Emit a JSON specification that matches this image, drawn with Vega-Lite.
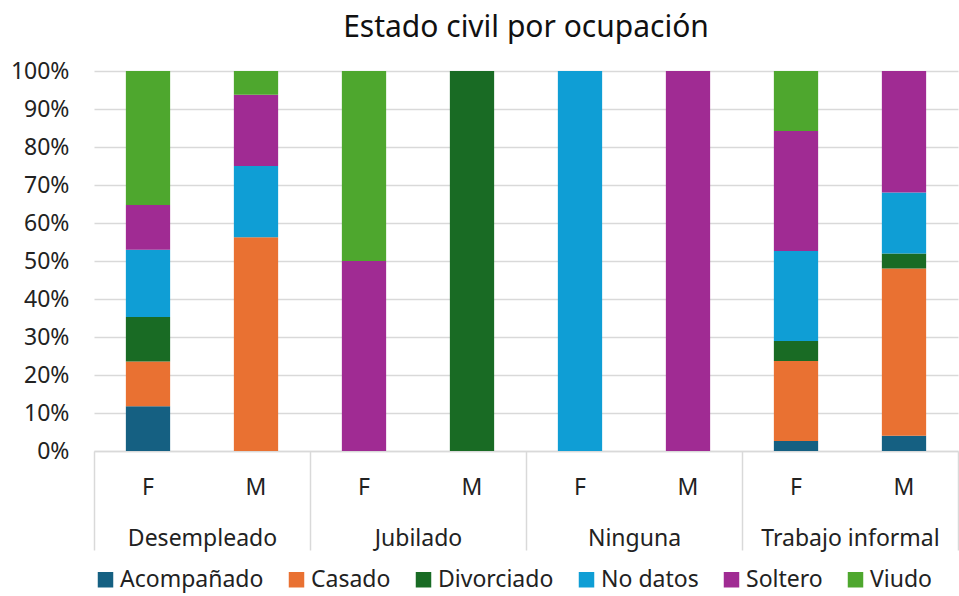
{
  "$schema": "https://vega.github.io/schema/vega-lite/v6.json",
  "autosize": {"type": "fit", "contains": "padding"},
  "width": 959,
  "height": 596,
  "padding": {"left": 10, "top": 13, "right": 0, "bottom": 4},
  "title": {"text": "Estado civil por ocupación", "fontSize": 30, "fontWeight": "normal", "color": "#111111", "anchor": "middle", "offset": 17},
  "data": {
    "values": [
      {"ocupacion": "Desempleado", "sexo": "F", "barra": "Desempleado F", "estado": "Acompañado", "n": 2},
      {"ocupacion": "Desempleado", "sexo": "F", "barra": "Desempleado F", "estado": "Casado", "n": 2},
      {"ocupacion": "Desempleado", "sexo": "F", "barra": "Desempleado F", "estado": "Divorciado", "n": 2},
      {"ocupacion": "Desempleado", "sexo": "F", "barra": "Desempleado F", "estado": "No datos", "n": 3},
      {"ocupacion": "Desempleado", "sexo": "F", "barra": "Desempleado F", "estado": "Soltero", "n": 2},
      {"ocupacion": "Desempleado", "sexo": "F", "barra": "Desempleado F", "estado": "Viudo", "n": 6},
      {"ocupacion": "Desempleado", "sexo": "M", "barra": "Desempleado M", "estado": "Casado", "n": 9},
      {"ocupacion": "Desempleado", "sexo": "M", "barra": "Desempleado M", "estado": "No datos", "n": 3},
      {"ocupacion": "Desempleado", "sexo": "M", "barra": "Desempleado M", "estado": "Soltero", "n": 3},
      {"ocupacion": "Desempleado", "sexo": "M", "barra": "Desempleado M", "estado": "Viudo", "n": 1},
      {"ocupacion": "Jubilado", "sexo": "F", "barra": "Jubilado F", "estado": "Soltero", "n": 1},
      {"ocupacion": "Jubilado", "sexo": "F", "barra": "Jubilado F", "estado": "Viudo", "n": 1},
      {"ocupacion": "Jubilado", "sexo": "M", "barra": "Jubilado M", "estado": "Divorciado", "n": 1},
      {"ocupacion": "Ninguna", "sexo": "F", "barra": "Ninguna F", "estado": "No datos", "n": 1},
      {"ocupacion": "Ninguna", "sexo": "M", "barra": "Ninguna M", "estado": "Soltero", "n": 1},
      {"ocupacion": "Trabajo informal", "sexo": "F", "barra": "Trabajo informal F", "estado": "Acompañado", "n": 1},
      {"ocupacion": "Trabajo informal", "sexo": "F", "barra": "Trabajo informal F", "estado": "Casado", "n": 8},
      {"ocupacion": "Trabajo informal", "sexo": "F", "barra": "Trabajo informal F", "estado": "Divorciado", "n": 2},
      {"ocupacion": "Trabajo informal", "sexo": "F", "barra": "Trabajo informal F", "estado": "No datos", "n": 9},
      {"ocupacion": "Trabajo informal", "sexo": "F", "barra": "Trabajo informal F", "estado": "Soltero", "n": 12},
      {"ocupacion": "Trabajo informal", "sexo": "F", "barra": "Trabajo informal F", "estado": "Viudo", "n": 6},
      {"ocupacion": "Trabajo informal", "sexo": "M", "barra": "Trabajo informal M", "estado": "Acompañado", "n": 1},
      {"ocupacion": "Trabajo informal", "sexo": "M", "barra": "Trabajo informal M", "estado": "Casado", "n": 11},
      {"ocupacion": "Trabajo informal", "sexo": "M", "barra": "Trabajo informal M", "estado": "Divorciado", "n": 1},
      {"ocupacion": "Trabajo informal", "sexo": "M", "barra": "Trabajo informal M", "estado": "No datos", "n": 4},
      {"ocupacion": "Trabajo informal", "sexo": "M", "barra": "Trabajo informal M", "estado": "Soltero", "n": 8}
    ]
  },
  "layer": [
    {
      "mark": {"type": "bar"},
      "encoding": {
        "x": {
          "field": "barra", "type": "nominal",
          "scale": {"paddingInner": 0.59, "paddingOuter": 0.295},
          "axis": {"title": null, "labelExpr": "slice(datum.label, -1)", "labelAngle": 0, "ticks": false, "domain": true, "domainColor": "#d9d9d9", "domainWidth": 1.5, "labelPadding": 25, "labelFontSize": 23, "labelColor": "#222222"}
        },
        "y": {
          "aggregate": "sum", "field": "n", "type": "quantitative", "stack": "normalize",
          "scale": {"domain": [0, 1]},
          "axis": {"title": null, "format": ".0%", "values": [0, 0.1, 0.2, 0.3, 0.4, 0.5, 0.6, 0.7, 0.8, 0.9, 1], "grid": true, "gridColor": "#d9d9d9", "gridWidth": 1.5, "domain": false, "ticks": false, "labelPadding": 25, "labelFontSize": 23, "labelColor": "#222222"}
        },
        "color": {
          "field": "estado", "type": "nominal",
          "scale": {"domain": ["Acompañado", "Casado", "Divorciado", "No datos", "Soltero", "Viudo"], "range": ["#156082", "#E97132", "#196B24", "#0F9ED5", "#A02B93", "#4EA72E"]},
          "legend": {"title": null, "orient": "bottom", "direction": "horizontal", "symbolType": "square", "symbolSize": 240, "symbolStrokeWidth": 0, "labelFontSize": 23, "labelColor": "#222222", "labelOffset": 3, "columnPadding": 21, "offset": 17}
        },
        "order": {"field": "estado", "sort": "ascending"}
      }
    },
    {
      "mark": {"type": "rule", "opacity": 0},
      "encoding": {
        "x": {
          "field": "ocupacion", "type": "nominal",
          "scale": {"paddingInner": 0, "paddingOuter": 0},
          "axis": {"orient": "bottom", "title": null, "labelAngle": 0, "domain": false, "tickBand": "extent", "tickSize": 99, "tickColor": "#d9d9d9", "tickWidth": 1.5, "labelPadding": -23, "labelFontSize": 23, "labelColor": "#222222"}
        }
      }
    }
  ],
  "resolve": {"scale": {"x": "independent"}},
  "config": {
    "font": "Noto Sans",
    "view": {"stroke": null},
    "legend": {"layout": {"bottom": {"anchor": "start"}}}
  }
}
